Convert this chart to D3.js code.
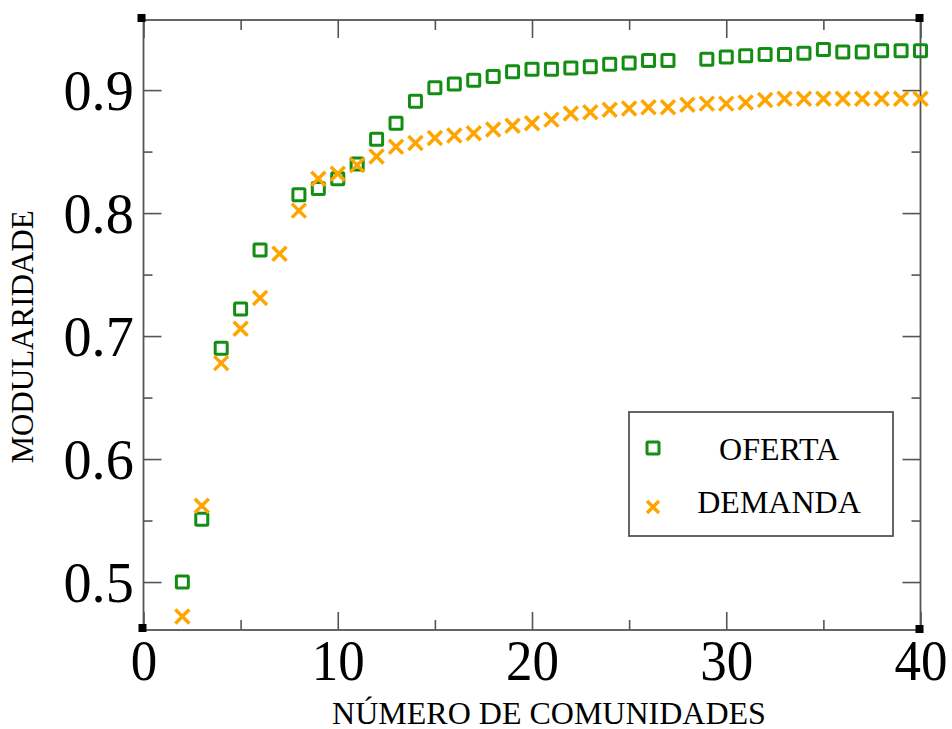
<!DOCTYPE html>
<html>
<head>
<meta charset="utf-8">
<script src="https://cdn.jsdelivr.net/npm/d3@7"></script>
<style>
  html, body { margin: 0; padding: 0; background: #fff; }
  svg { display: block; }
  text { font-family: "Liberation Serif", "Times New Roman", serif; fill: #000; }
</style>
</head>
<body>
<svg id="chart" width="952" height="729"></svg>
<script>
// ---- data ----
const ofertaX = [2,3,4,5,6,8,9,10,11,12,13,14,15,16,17,18,19,20,21,22,23,24,25,26,27,29,30,31,32,33,34,35,36,37,38,39,40];
const ofertaY = [0.500,0.551,0.690,0.722,0.770,0.815,0.820,0.828,0.840,0.860,0.873,0.891,0.902,0.905,0.908,0.911,0.915,0.917,0.917,0.918,0.919,0.921,0.922,0.924,0.924,0.925,0.927,0.928,0.929,0.929,0.930,0.933,0.931,0.931,0.932,0.932,0.932];
const demandaX = [2,3,4,5,6,7,8,9,10,11,12,13,14,15,16,17,18,19,20,21,22,23,24,25,26,27,28,29,30,31,32,33,34,35,36,37,38,39,40];
const demandaY = [0.472,0.562,0.678,0.706,0.731,0.767,0.802,0.828,0.832,0.839,0.846,0.854,0.857,0.861,0.863,0.865,0.868,0.871,0.873,0.876,0.881,0.882,0.884,0.885,0.886,0.886,0.888,0.889,0.889,0.890,0.892,0.893,0.893,0.893,0.893,0.893,0.893,0.893,0.893];
const xMajor = [0,10,20,30,40];
const xMinor = [5,15,25,35];
const yMajor = [0.5,0.6,0.7,0.8,0.9];
const yMinor = [0.55,0.65,0.75,0.85];
const yTickLabels = ["0.5","0.6","0.7","0.8","0.9"];
const seriesNames = ["OFERTA","DEMANDA"];
const xTitle = "NÚMERO DE COMUNIDADES";
const yTitle = "MODULARIDADE";

// ---- layout ----
const L = 143.5, R = 920.5, T = 20, B = 630;
const GREEN = "#138d13", ORANGE = "#ffa500", AXIS = "#555";

const svg = d3.select("#chart");
const x = d3.scaleLinear().domain([0, 40]).range([L, R]);
const y = d3.scaleLinear().domain([0.461, 0.957]).range([B, T]);

// ticks (all inward, mirrored)
function styleAxis(g) {
  g.select(".domain").remove();
  g.selectAll(".tick line").attr("stroke", AXIS).attr("stroke-width", 1.6);
}
svg.append("g").attr("transform", `translate(0,${B})`)
  .call(d3.axisBottom(x).tickValues(xMajor).tickSizeInner(-18).tickSizeOuter(0).tickPadding(12).tickFormat(d3.format("d")))
  .call(styleAxis)
  .call(g => g.selectAll(".tick text").attr("font-size", 57).attr("dy", null).attr("y", 50)
      .attr("transform", "scale(0.93,1)")
      .attr("font-family", "Liberation Serif").attr("fill", "#000"));
svg.append("g").attr("transform", `translate(0,${B})`)
  .call(d3.axisBottom(x).tickValues(xMinor).tickSizeInner(-10).tickSizeOuter(0).tickFormat(""))
  .call(styleAxis);
svg.append("g").attr("transform", `translate(0,${T})`)
  .call(d3.axisTop(x).tickValues(xMajor).tickSizeInner(-18).tickSizeOuter(0).tickFormat(""))
  .call(styleAxis);
svg.append("g").attr("transform", `translate(0,${T})`)
  .call(d3.axisTop(x).tickValues(xMinor).tickSizeInner(-10).tickSizeOuter(0).tickFormat(""))
  .call(styleAxis);

svg.append("g").attr("transform", `translate(${L},0)`)
  .call(d3.axisLeft(y).tickValues(yMajor).tickSizeInner(-18).tickSizeOuter(0).tickPadding(10)
        .tickFormat((d, i) => yTickLabels[i]))
  .call(styleAxis)
  .call(g => g.selectAll(".tick text").attr("font-size", 58).attr("dy", "0.34em")
      .attr("transform", "scale(0.97,1)")
      .attr("font-family", "Liberation Serif").attr("fill", "#000"));
svg.append("g").attr("transform", `translate(${L},0)`)
  .call(d3.axisLeft(y).tickValues(yMinor).tickSizeInner(-9).tickSizeOuter(0).tickFormat(""))
  .call(styleAxis);
svg.append("g").attr("transform", `translate(${R},0)`)
  .call(d3.axisRight(y).tickValues(yMajor).tickSizeInner(-18).tickSizeOuter(0).tickFormat(""))
  .call(styleAxis);
svg.append("g").attr("transform", `translate(${R},0)`)
  .call(d3.axisRight(y).tickValues(yMinor).tickSizeInner(-9).tickSizeOuter(0).tickFormat(""))
  .call(styleAxis);

// frame
svg.append("rect").attr("x", L).attr("y", T).attr("width", R - L).attr("height", B - T)
  .attr("fill", "none").attr("stroke", AXIS).attr("stroke-width", 1.8);

// corner squares
[[L - 6, T - 6], [R - 5, T - 6], [L - 5, B - 6], [R - 5, B - 5]].forEach(([cx, cy]) => {
  svg.append("rect").attr("x", cx).attr("y", cy).attr("width", 8).attr("height", 8).attr("fill", "#000");
});

// markers
const sq = 12, xs = 7;
svg.append("g").selectAll("rect").data(ofertaX.map((d, i) => [d, ofertaY[i]])).join("rect")
  .attr("x", d => x(d[0]) - sq / 2).attr("y", d => y(d[1]) - sq / 2)
  .attr("width", sq).attr("height", sq).attr("rx", 1)
  .attr("fill", "none").attr("stroke", GREEN).attr("stroke-width", 3);

svg.append("g").selectAll("path").data(demandaX.map((d, i) => [d, demandaY[i]])).join("path")
  .attr("d", d => {
    const cx = x(d[0]), cy = y(d[1]);
    return `M${cx - xs},${cy - xs}L${cx + xs},${cy + xs}M${cx - xs},${cy + xs}L${cx + xs},${cy - xs}`;
  })
  .attr("fill", "none").attr("stroke", ORANGE).attr("stroke-width", 3.5);

// legend
const lg = svg.append("g");
lg.append("rect").attr("x", 629).attr("y", 412).attr("width", 264).attr("height", 124)
  .attr("fill", "#fff").attr("stroke", AXIS).attr("stroke-width", 1.8);
lg.append("rect").attr("x", 653 - 6).attr("y", 448 - 6).attr("width", 12).attr("height", 12).attr("rx", 1)
  .attr("fill", "none").attr("stroke", GREEN).attr("stroke-width", 3);
lg.append("path").attr("d", `M${653-6},${507-6}L${653+6},${507+6}M${653-6},${507+6}L${653+6},${507-6}`)
  .attr("fill", "none").attr("stroke", ORANGE).attr("stroke-width", 3.5);
lg.append("text").attr("x", 779).attr("y", 460).attr("text-anchor", "middle").attr("font-size", 32).text(seriesNames[0]);
lg.append("text").attr("x", 779).attr("y", 513).attr("text-anchor", "middle").attr("font-size", 32).text(seriesNames[1]);

// axis titles
svg.append("text").attr("x", 549).attr("y", 724).attr("text-anchor", "middle").attr("font-size", 32).text(xTitle);
svg.append("text").attr("transform", "translate(33,337) rotate(-90)").attr("text-anchor", "middle")
  .attr("font-size", 31).text(yTitle);
</script>
</body>
</html>
